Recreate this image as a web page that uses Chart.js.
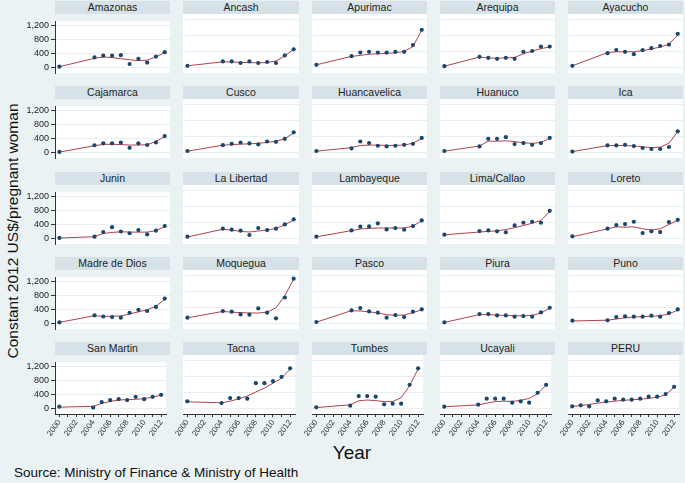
<!DOCTYPE html>
<html><head><meta charset="utf-8">
<script src="https://cdn.jsdelivr.net/npm/chart.js@4.4.1/dist/chart.umd.min.js"></script>
<style>
html,body{margin:0;padding:0;}
body{width:685px;height:483px;background:#eaf2f3;position:relative;overflow:hidden;font-family:'Liberation Sans',Arial,sans-serif;}
.strip{position:absolute;background:#d6e2e8;color:#222;font-size:10.5px;text-align:center;line-height:13px;white-space:nowrap;}
canvas{position:absolute;}
#ytitle{position:absolute;left:13px;top:231px;transform:translate(-50%,-50%) rotate(-90deg);font-size:15.5px;color:#111;white-space:nowrap;}
#xtitle{position:absolute;left:352px;top:453px;transform:translate(-50%,-50%);font-size:19px;color:#111;}
#source{position:absolute;left:14px;top:465px;font-size:13.5px;color:#111;white-space:nowrap;}
</style>
</head><body>
<div id="ytitle">Constant 2012 US$/pregnant woman</div>
<div id="xtitle">Year</div>
<div id="source">Source: Ministry of Finance &amp; Ministry of Health</div>
<script>
// ---- data ----
const regions = ['Amazonas','Ancash','Apurimac','Arequipa','Ayacucho',
  'Cajamarca','Cusco','Huancavelica','Huanuco','Ica',
  'Junin','La Libertad','Lambayeque','Lima/Callao','Loreto',
  'Madre de Dios','Moquegua','Pasco','Piura','Puno',
  'San Martin','Tacna','Tumbes','Ucayali','PERU'];
const years = [2000,2004,2005,2006,2007,2008,2009,2010,2011,2012];
const yearsPeru = [2000,2001,2002,2003,2004,2005,2006,2007,2008,2009,2010,2011,2012];
const xTickYears = [2000,2001,2002,2003,2004,2005,2006,2007,2008,2009,2010,2011,2012];
const yTickValues = [0,200,400,600,800,1000,1200];

const amazonas    = [30,296,345,345,360,107,255,148,320,444];
const amazonasFit = [30,270,310,290,260,230,205,215,310,435];
const ancash      = [30,140,140,100,140,100,125,100,290,444];
const ancashFit   = [30,130,125,115,110,105,110,150,280,440];
const apurimac    = [55,270,360,380,360,360,380,380,550,930];
const apurimacFit = [55,265,290,320,330,340,355,390,510,920];
const arequipa    = [20,255,230,205,230,205,380,400,510,510];
const arequipaFit = [20,250,225,220,225,240,330,400,460,500];
const ayacucho    = [30,345,425,380,320,420,470,525,560,830];
const ayacuchoFit = [30,360,380,380,380,410,450,500,570,800];
const cajamarca    = [25,214,270,270,290,140,270,222,296,477];
const cajamarcaFit = [20,200,240,240,235,220,220,230,320,470];
const cusco    = [25,170,205,238,214,190,263,255,330,493];
const cuscoFit = [20,170,185,195,205,215,240,270,330,480];
const huancavelica    = [25,90,263,222,156,140,156,180,205,353];
const huancavelicaFit = [20,110,160,175,170,165,165,175,220,340];
const huanuco    = [25,140,330,330,370,197,222,180,222,353];
const huanucoFit = [20,150,270,270,280,260,230,215,240,340];
const ica    = [10,165,165,180,148,100,75,75,125,518];
const icaFit = [10,160,165,160,150,130,110,120,220,510];
const junin    = [25,58,190,331,207,157,248,124,232,364];
const juninFit = [20,60,150,180,200,190,190,190,230,350];
const laLibertad    = [33,232,207,182,75,248,199,232,340,464];
const laLibertadFit = [25,220,195,165,150,175,200,240,330,450];
const lambayeque    = [33,190,282,290,364,215,248,207,298,439];
const lambayequeFit = [30,185,225,240,250,250,250,250,300,430];
const limaCallao    = [83,174,190,166,141,315,381,406,381,679];
const limaCallaoFit = [80,150,165,180,210,260,310,370,440,660];
const loreto    = [41,232,323,348,406,124,166,149,397,455];
const loretoFit = [30,230,280,270,280,230,200,230,340,440];
const madreDeDios    = [41,240,207,190,174,315,397,364,480,720];
const madreDeDiosFit = [40,230,210,215,220,280,340,400,500,700];
const moquegua    = [132,298,282,215,207,364,257,116,637,1109];
const moqueguaFit = [130,290,270,260,250,250,270,380,680,1100];
const pasco    = [25,315,373,290,257,132,199,149,282,340];
const pascoFit = [20,310,300,280,250,210,190,200,260,330];
const piura    = [17,224,224,190,190,157,174,157,265,381];
const piuraFit = [15,210,210,200,190,180,180,190,250,370];
const puno    = [58,66,149,166,157,157,182,157,248,340];
const punoFit = [50,70,100,130,150,160,165,180,230,320];
const sanMartin    = [58,33,190,248,273,248,340,273,340,397];
const sanMartinFit = [45,70,150,210,250,260,270,290,330,390];
const tacna    = [166,124,248,248,232,621,621,671,778,993];
const tacnaFit = [155,130,170,230,300,400,500,620,750,970];
const tumbes    = [17,58,298,298,282,91,108,108,580,993];
const tumbesFit = [10,80,180,200,185,160,160,260,560,980];
const ucayali    = [33,83,232,232,232,132,166,132,381,580];
const ucayaliFit = [30,80,120,160,170,165,190,240,360,570];
const peru    = [41,66,41,190,166,232,207,207,232,282,282,348,530];
const peruFit = [40,60,90,120,150,170,190,205,220,240,270,330,520];

const observed = [amazonas,ancash,apurimac,arequipa,ayacucho,cajamarca,cusco,huancavelica,huanuco,ica,
  junin,laLibertad,lambayeque,limaCallao,loreto,madreDeDios,moquegua,pasco,piura,puno,
  sanMartin,tacna,tumbes,ucayali,peru];
const fitted = [amazonasFit,ancashFit,apurimacFit,arequipaFit,ayacuchoFit,cajamarcaFit,cuscoFit,huancavelicaFit,huanucoFit,icaFit,
  juninFit,laLibertadFit,lambayequeFit,limaCallaoFit,loretoFit,madreDeDiosFit,moqueguaFit,pascoFit,piuraFit,punoFit,
  sanMartinFit,tacnaFit,tumbesFit,ucayaliFit,peruFit];

// ---- layout ----
const colLeft = [55,183,312,440,568];
const colWidth = [115,116,115,115,115];
const rowPitch = 85.25;
const L = 50, B = 40, plotH = 59;
const FONT = "'Liberation Sans', Arial, sans-serif";
const bgPlugin = {
  id:'bg',
  beforeDraw(chart){
    const a = chart.chartArea, c = chart.ctx;
    c.save(); c.fillStyle = '#ffffff';
    c.fillRect(a.left, a.top, a.right-a.left, a.bottom-a.top);
    c.restore();
  }
};

regions.forEach((name, i) => {
  const r = Math.floor(i/5), c = i%5;
  const top = Math.round(14 + rowPitch*r);
  const left = colLeft[c], w = colWidth[c];
  const strip = document.createElement('div');
  strip.className = 'strip';
  strip.style.left = left+'px';
  strip.style.top = (top-13)+'px';
  strip.style.width = w+'px';
  strip.style.height = '13px';
  strip.textContent = name;
  document.body.appendChild(strip);

  const cv = document.createElement('canvas');
  cv.width = L + w; cv.height = plotH + B;
  cv.style.left = (left - L)+'px';
  cv.style.top = top+'px';
  cv.style.width = (L+w)+'px'; cv.style.height = (plotH+B)+'px';
  document.body.appendChild(cv);

  const yrs = name === 'PERU' ? yearsPeru : years;
  const obs = observed[i].map((v,k)=>({x:yrs[k], y:v}));
  const fit = fitted[i].map((v,k)=>({x:yrs[k], y:v}));
  const isLeft = c === 0, isBottom = r === 4;

  new Chart(cv, {
    type:'line',
    data:{datasets:[
      {data:obs, showLine:false, pointRadius:2.1, pointBackgroundColor:'#1a476f', pointBorderWidth:0, pointBorderColor:'#1a476f'},
      {data:fit, borderColor:'#b0424c', borderWidth:1, pointRadius:0, tension:0, fill:false}
    ]},
    options:{
      responsive:false, animation:false, devicePixelRatio:1,
      layout:{padding:0, autoPadding:false},
      plugins:{legend:{display:false}, tooltip:{enabled:false}, title:{display:false}},
      scales:{
        x:{type:'linear', min:1999.5, max:2012.6,
          afterBuildTicks(s){ s.ticks = xTickYears.map(v=>({value:v})); },
          afterFit(s){ s.height = B; },
          grid:{display:isBottom, drawOnChartArea:false, drawTicks:isBottom, tickLength:3, tickColor:'#333'},
          border:{display:isBottom, color:'#333', width:1},
          ticks:{display:isBottom, autoSkip:false, minRotation:55, maxRotation:55, padding:1,
            font:{size:8, family:FONT}, color:'#333',
            callback:(v)=> (v%2===0 ? String(v) : '')}
        },
        y:{type:'linear', min:-150, max:1325,
          afterBuildTicks(s){ s.ticks = yTickValues.map(v=>({value:v})); },
          afterFit(s){ s.width = L; },
          grid:{color:(ctx)=> (ctx.tick && ctx.tick.value%400===0 ? '#e6eef1' : 'rgba(0,0,0,0)'),
            lineWidth:1, drawTicks:isLeft, tickLength:4, tickColor:'#333'},
          border:{display:isLeft, color:'#333', width:1},
          ticks:{display:isLeft, padding:2, font:{size:9, family:FONT}, color:'#222',
            callback:(v)=> (v%400===0 ? v.toLocaleString('en-US') : '')}
        }
      }
    },
    plugins:[bgPlugin]
  });
});
</script>
</body></html>
